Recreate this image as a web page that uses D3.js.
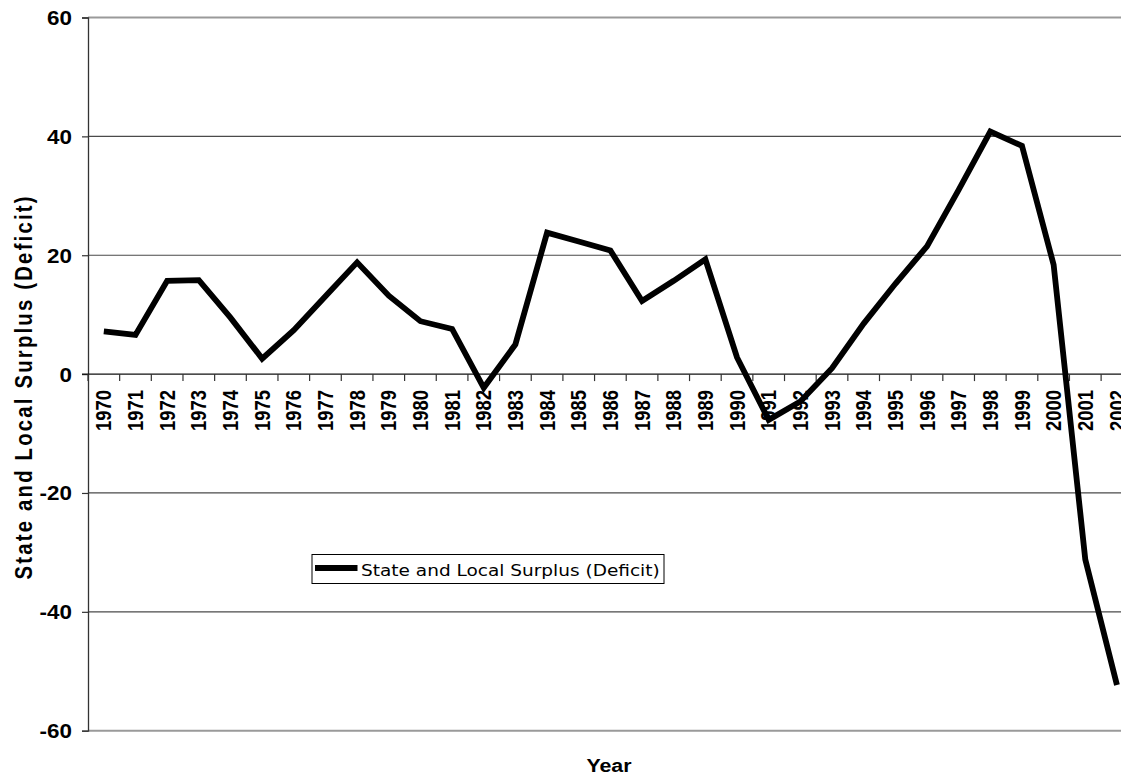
<!DOCTYPE html>
<html>
<head>
<meta charset="utf-8">
<script src="https://cdn.jsdelivr.net/npm/d3@7"></script>
<style>
  html, body { margin: 0; padding: 0; background: #fff; }
  svg { display: block; }
</style>
</head>
<body>
<svg id="chart" width="1121" height="778"></svg>
<script>
// State and local government surplus (deficit), by year
const years = ["1970","1971","1972","1973","1974","1975","1976","1977","1978","1979",
  "1980","1981","1982","1983","1984","1985","1986","1987","1988","1989",
  "1990","1991","1992","1993","1994","1995","1996","1997","1998","1999",
  "2000","2001","2002"];
const surplus = [7.2, 6.6, 15.7, 15.8, 9.5, 2.6, 7.4, 13.1, 18.8, 13.2,
  8.9, 7.6, -2.3, 5.0, 23.8, 22.3, 20.8, 12.3, 15.7, 19.3,
  2.8, -7.7, -4.6, 1.0, 8.5, 15.2, 21.5, 31.0, 40.8, 38.4,
  18.4, -31.2, -52.3];
const yTicks = [-60, -40, -20, 0, 20, 40, 60];
const seriesName = "State and Local Surplus (Deficit)";

const svg = d3.select("#chart");
const W = 1121;
const plotLeft = 88, plotTop = 17.5, plotBottom = 730.7;
const band = 31.66;
const sx = 1.15;          // glyphs are drawn slightly wide
const sansBold = "Liberation Sans, Arial, sans-serif";

const x = d3.scaleBand().domain(years).range([plotLeft, plotLeft + band * years.length]).paddingInner(0).paddingOuter(0);
const y = d3.scaleLinear().domain([-60, 60]).range([plotBottom, plotTop]);

const plot = svg.append("g");

// horizontal gridlines
plot.selectAll("line.grid")
  .data(yTicks.filter(d => d !== 0 && d !== 60 && d !== -60))
  .join("line")
  .attr("class", "grid")
  .attr("x1", plotLeft).attr("x2", W)
  .attr("y1", d => y(d)).attr("y2", d => y(d))
  .attr("stroke", "#4a4a4a").attr("stroke-width", 1.2);

// plot frame top/bottom
[60, -60].forEach(v => {
  plot.append("line")
    .attr("x1", plotLeft).attr("x2", W)
    .attr("y1", y(v)).attr("y2", y(v))
    .attr("stroke", "#9a9a9a").attr("stroke-width", 2);
});

// y axis
const yAxis = d3.axisLeft(y).tickValues(yTicks).tickSize(6).tickFormat(d => String(d));
const gy = svg.append("g").attr("transform", `translate(${plotLeft},0)`).call(yAxis);
gy.select(".domain").attr("stroke", "#333").attr("stroke-width", 1.3);
gy.selectAll(".tick line").attr("stroke", "#333").attr("stroke-width", 1.2);
gy.selectAll(".tick text")
  .attr("x", 0).attr("dy", "0.36em")
  .attr("transform", `translate(-16,0) scale(${sx},1)`)
  .attr("font-family", sansBold)
  .attr("font-weight", "bold").attr("font-size", 19.5).attr("fill", "#000");

// x axis at zero
const xAxis = d3.axisBottom(x).tickSize(0).tickFormat(d => d);
const gx = svg.append("g").attr("transform", `translate(0,${y(0)})`).call(xAxis);
gx.select(".domain").remove();
gx.append("line").attr("x1", plotLeft - 6).attr("x2", W).attr("y1", 0).attr("y2", 0)
  .attr("stroke", "#111").attr("stroke-width", 1.3);
// tick marks on band boundaries
gx.selectAll("line.bt")
  .data(years)
  .join("line")
  .attr("class", "bt")
  .attr("x1", d => x(d)).attr("x2", d => x(d))
  .attr("y1", 0).attr("y2", 7)
  .attr("stroke", "#333").attr("stroke-width", 1.2);
gx.selectAll(".tick text")
  .attr("font-family", sansBold)
  .attr("font-weight", "bold").attr("font-size", 18.4).attr("fill", "#000")
  .attr("text-anchor", "end")
  .attr("x", 0).attr("y", 0)
  .attr("dy", "0.36em")
  .attr("transform", `translate(0,16) scale(${sx},1) rotate(-90)`);

// data line
const line = d3.line()
  .x((d, i) => x(years[i]) + x.bandwidth() / 2)
  .y(d => y(d));
svg.append("path")
  .datum(surplus)
  .attr("d", line)
  .attr("fill", "none")
  .attr("stroke", "#000")
  .attr("stroke-width", 5.8)
  .attr("stroke-linejoin", "miter");

// axis titles
svg.append("text")
  .attr("transform", `translate(24,388) scale(${sx},1) rotate(-90)`)
  .attr("text-anchor", "middle")
  .attr("dy", "0.36em")
  .attr("font-family", sansBold)
  .attr("font-weight", "bold").attr("font-size", 20.3)
  .attr("textLength", 383).attr("lengthAdjust", "spacing")
  .text(seriesName);

svg.append("text")
  .attr("transform", `translate(609,771.5) scale(${sx},1)`)
  .attr("text-anchor", "middle")
  .attr("font-family", sansBold)
  .attr("font-weight", "bold").attr("font-size", 18.6)
  .text("Year");

// legend
const lg = svg.append("g").attr("transform", "translate(312,554.5)");
lg.append("rect").attr("x", 0).attr("y", 0).attr("width", 352).attr("height", 29)
  .attr("fill", "#fff").attr("stroke", "#000").attr("stroke-width", 1);
lg.append("line").attr("x1", 3).attr("x2", 45.5).attr("y1", 13.5).attr("y2", 13.5)
  .attr("stroke", "#000").attr("stroke-width", 5.8);
lg.append("text")
  .attr("transform", `translate(49,21.5) scale(${sx},1)`)
  .attr("font-family", "DejaVu Sans, Verdana, sans-serif")
  .attr("font-size", 16.1)
  .text(seriesName);
</script>
</body>
</html>
